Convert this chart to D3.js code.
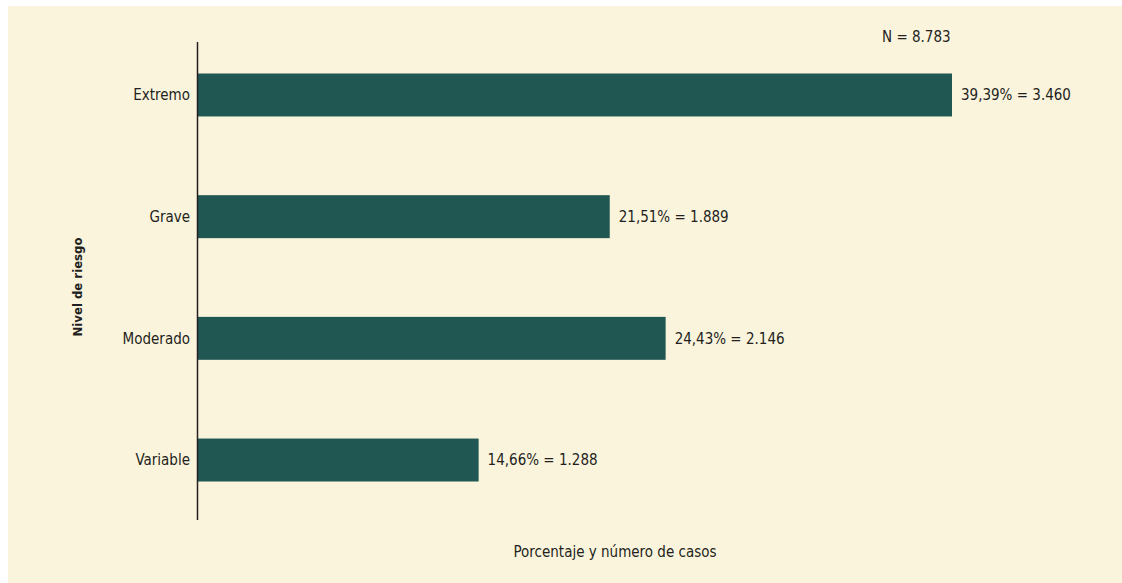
<!DOCTYPE html>
<html lang="es">
<head>
<meta charset="UTF-8">
<script src="https://d3js.org/d3.v7.min.js"></script>
<style>
    body { margin: 0; background: #ffffff; }
    svg text { font-family: "Liberation Sans Narrow", "DejaVu Sans Condensed", sans-serif; fill: #231f20; }
</style>
</head>
<body>
<script>
    var categories = ["Extremo", "Grave", "Moderado", "Variable"];
    var percentages = [39.39, 21.51, 24.43, 14.66];
    var cases = ["3.460", "1.889", "2.146", "1.288"];
    var pctLabels = ["39,39%", "21,51%", "24,43%", "14,66%"];
    var totalLabel = "N = 8.783";

    var width = 1122;
    var height = 583;

    var svg = d3.select("body").append("svg")
        .attr("width", width)
        .attr("height", height);

    // cream panel
    svg.append("rect")
        .attr("x", 8)
        .attr("y", 6)
        .attr("width", width - 8)
        .attr("height", height - 6)
        .attr("fill", "#fbf4dd");

    var x = d3.scaleLinear()
        .domain([0, 39.39])
        .range([198, 952]);

    var y = d3.scaleBand()
        .domain(categories)
        .range([73.5, 481.5])
        .paddingInner(0.647)
        .paddingOuter(0);

    var g = svg.append("g");

    g.selectAll(".bar")
        .data(categories)
        .enter()
        .append("rect")
        .attr("class", "bar")
        .attr("x", x(0))
        .attr("y", function (d) { return y(d); })
        .attr("width", function (d, i) { return x(percentages[i]) - x(0); })
        .attr("height", y.bandwidth())
        .attr("fill", "#215753");

    // axis line
    g.append("line")
        .attr("x1", 197.5)
        .attr("x2", 197.5)
        .attr("y1", 42)
        .attr("y2", 520)
        .attr("stroke", "#231f20")
        .attr("stroke-width", 1.5);

    g.selectAll(".catText")
        .data(categories)
        .enter()
        .append("text")
        .attr("class", "catText")
        .attr("x", 190)
        .attr("y", function (d) { return y(d) + y.bandwidth() / 2; })
        .attr("dy", "0.35em")
        .attr("text-anchor", "end")
        .attr("font-size", "15px")
        .text(function (d) { return d; });

    g.selectAll(".valText")
        .data(categories)
        .enter()
        .append("text")
        .attr("class", "valText")
        .attr("x", function (d, i) { return x(percentages[i]) + 9; })
        .attr("y", function (d) { return y(d) + y.bandwidth() / 2; })
        .attr("dy", "0.35em")
        .attr("font-size", "15px")
        .text(function (d, i) { return pctLabels[i] + " = " + cases[i]; });

    svg.append("text")
        .attr("x", 882)
        .attr("y", 37)
        .attr("dy", "0.35em")
        .attr("font-size", "15px")
        .text(totalLabel);

    svg.append("text")
        .attr("x", 615)
        .attr("y", 552)
        .attr("dy", "0.35em")
        .attr("text-anchor", "middle")
        .attr("font-size", "15px")
        .text("Porcentaje y número de casos");

    svg.append("text")
        .attr("transform", "translate(77,287) rotate(-90)")
        .attr("dy", "0.35em")
        .attr("text-anchor", "middle")
        .attr("font-size", "13px")
        .attr("font-weight", "bold")
        .text("Nivel de riesgo");
</script>
</body>
</html>
